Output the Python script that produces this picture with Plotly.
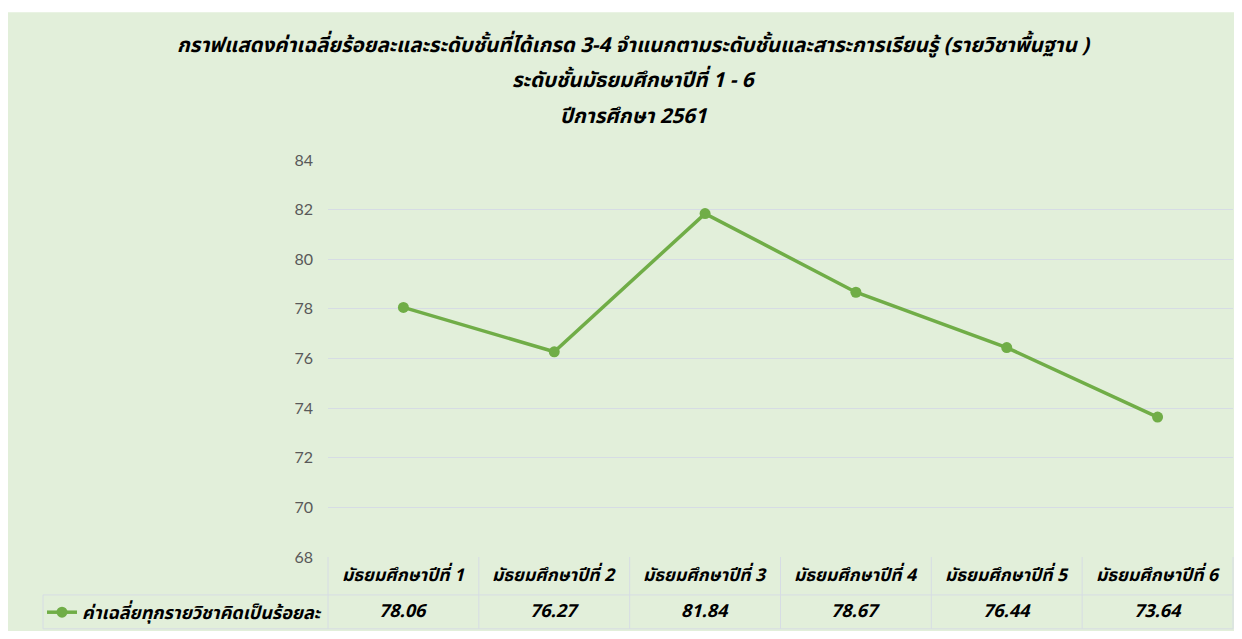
import plotly.graph_objects as go

categories = ["มัธยมศึกษาปีที่ 1", "มัธยมศึกษาปีที่ 2", "มัธยมศึกษาปีที่ 3",
              "มัธยมศึกษาปีที่ 4", "มัธยมศึกษาปีที่ 5", "มัธยมศึกษาปีที่ 6"]
values = [78.06, 76.27, 81.84, 78.67, 76.44, 73.64]
series_name = "ค่าเฉลี่ยทุกรายวิชาคิดเป็นร้อยละ"
title_lines = ["กราฟแสดงค่าเฉลี่ยร้อยละและระดับชั้นที่ได้เกรด 3-4 จำแนกตามระดับชั้นและสาระการเรียนรู้ (รายวิชาพื้นฐาน )",
               "ระดับชั้นมัธยมศึกษาปีที่ 1 - 6",
               "ปีการศึกษา 2561"]
y_ticks = [68, 70, 72, 74, 76, 78, 80, 82, 84]

# page body has an 8px margin: figure pixel = screen pixel - 8
OFF = 8
W, H = 1226, 623
L, R, T, B = 320, 1, 152, 73
PW, PH = W - L - R, H - T - B

def px(x):  # screen x -> paper
    return (x - OFF - L) / PW

def py(y):  # screen y -> paper
    return (H - B - (y - OFF)) / PH

BG = "#E2EFDA"
GREEN = "#70AD47"
GRID = "#D6DCE4"
THAI = "Noto Sans Thai, Tlwg Typo, Loma, Garuda, Norasi, Kinnari, DejaVu Sans, sans-serif"

fig = go.Figure()
fig.add_trace(go.Scatter(
    x=categories, y=values, mode="lines+markers", name=series_name,
    line=dict(color=GREEN, width=3.5), marker=dict(color=GREEN, size=11),
    showlegend=True,
))

shapes = []
# white strip at the top
shapes.append(dict(type="rect", xref="paper", yref="paper", x0=px(0), x1=px(1250), y0=py(0), y1=py(12),
                   fillcolor="white", line=dict(width=0), layer="above"))
# table lines
lc = dict(color=GRID, width=1)
y_top, y_mid, y_bot = 558, 596, 630
shapes.append(dict(type="line", xref="paper", yref="paper", x0=px(43), x1=1, y0=py(y_mid), y1=py(y_mid), line=lc))
shapes.append(dict(type="line", xref="paper", yref="paper", x0=px(43), x1=1, y0=py(y_bot), y1=py(y_bot), line=lc))
shapes.append(dict(type="line", xref="paper", yref="paper", x0=px(43), x1=px(43), y0=py(y_mid), y1=py(y_bot), line=lc))
n = len(categories)
for i in range(n + 1):
    xx = i / n
    shapes.append(dict(type="line", xref="paper", yref="paper", x0=xx, x1=xx, y0=py(y_top), y1=py(y_bot), line=lc))

annotations = []
for i, t in enumerate(title_lines):
    annotations.append(dict(text=t, xref="paper", yref="paper", x=px(634), y=py([45, 80, 116][i]),
                            showarrow=False, xanchor="center", yanchor="middle",
                            font=dict(family=THAI, size=20.5, color="black", weight="bold", style="italic")))
for c, v in zip(categories, values):
    annotations.append(dict(text=c, xref="x", yref="paper", x=c, y=py(577), showarrow=False,
                            xanchor="center", yanchor="middle",
                            font=dict(family=THAI, size=17.5, color="black", weight="bold", style="italic")))
    annotations.append(dict(text=f"{v:.2f}", xref="x", yref="paper", x=c, y=py(613), showarrow=False,
                            xanchor="center", yanchor="middle",
                            font=dict(family=THAI, size=18, color="black", weight="bold", style="italic")))

fig.update_layout(
    width=W, height=H, margin=dict(l=L, r=R, t=T, b=B),
    paper_bgcolor=BG, plot_bgcolor=BG,
    shapes=shapes, annotations=annotations,
    xaxis=dict(showticklabels=False, showgrid=False, zeroline=False, showline=False,
               range=[-0.5, n - 0.5], fixedrange=True),
    yaxis=dict(range=[68, 84], tickvals=y_ticks, showgrid=True, gridcolor=GRID, gridwidth=1,
               zeroline=False, showline=False, ticks="", ticklabelstandoff=14,
               tickfont=dict(family="Lato, Open Sans, sans-serif", size=16, color="#595959")),
    legend=dict(x=px(42), y=py(613), xanchor="left", yanchor="middle", bgcolor="rgba(0,0,0,0)",
                itemwidth=30, tracegroupgap=0,
                font=dict(family=THAI, size=18, color="black", weight="bold", style="italic")),
    showlegend=True,
)

fig.write_html("out.html")
